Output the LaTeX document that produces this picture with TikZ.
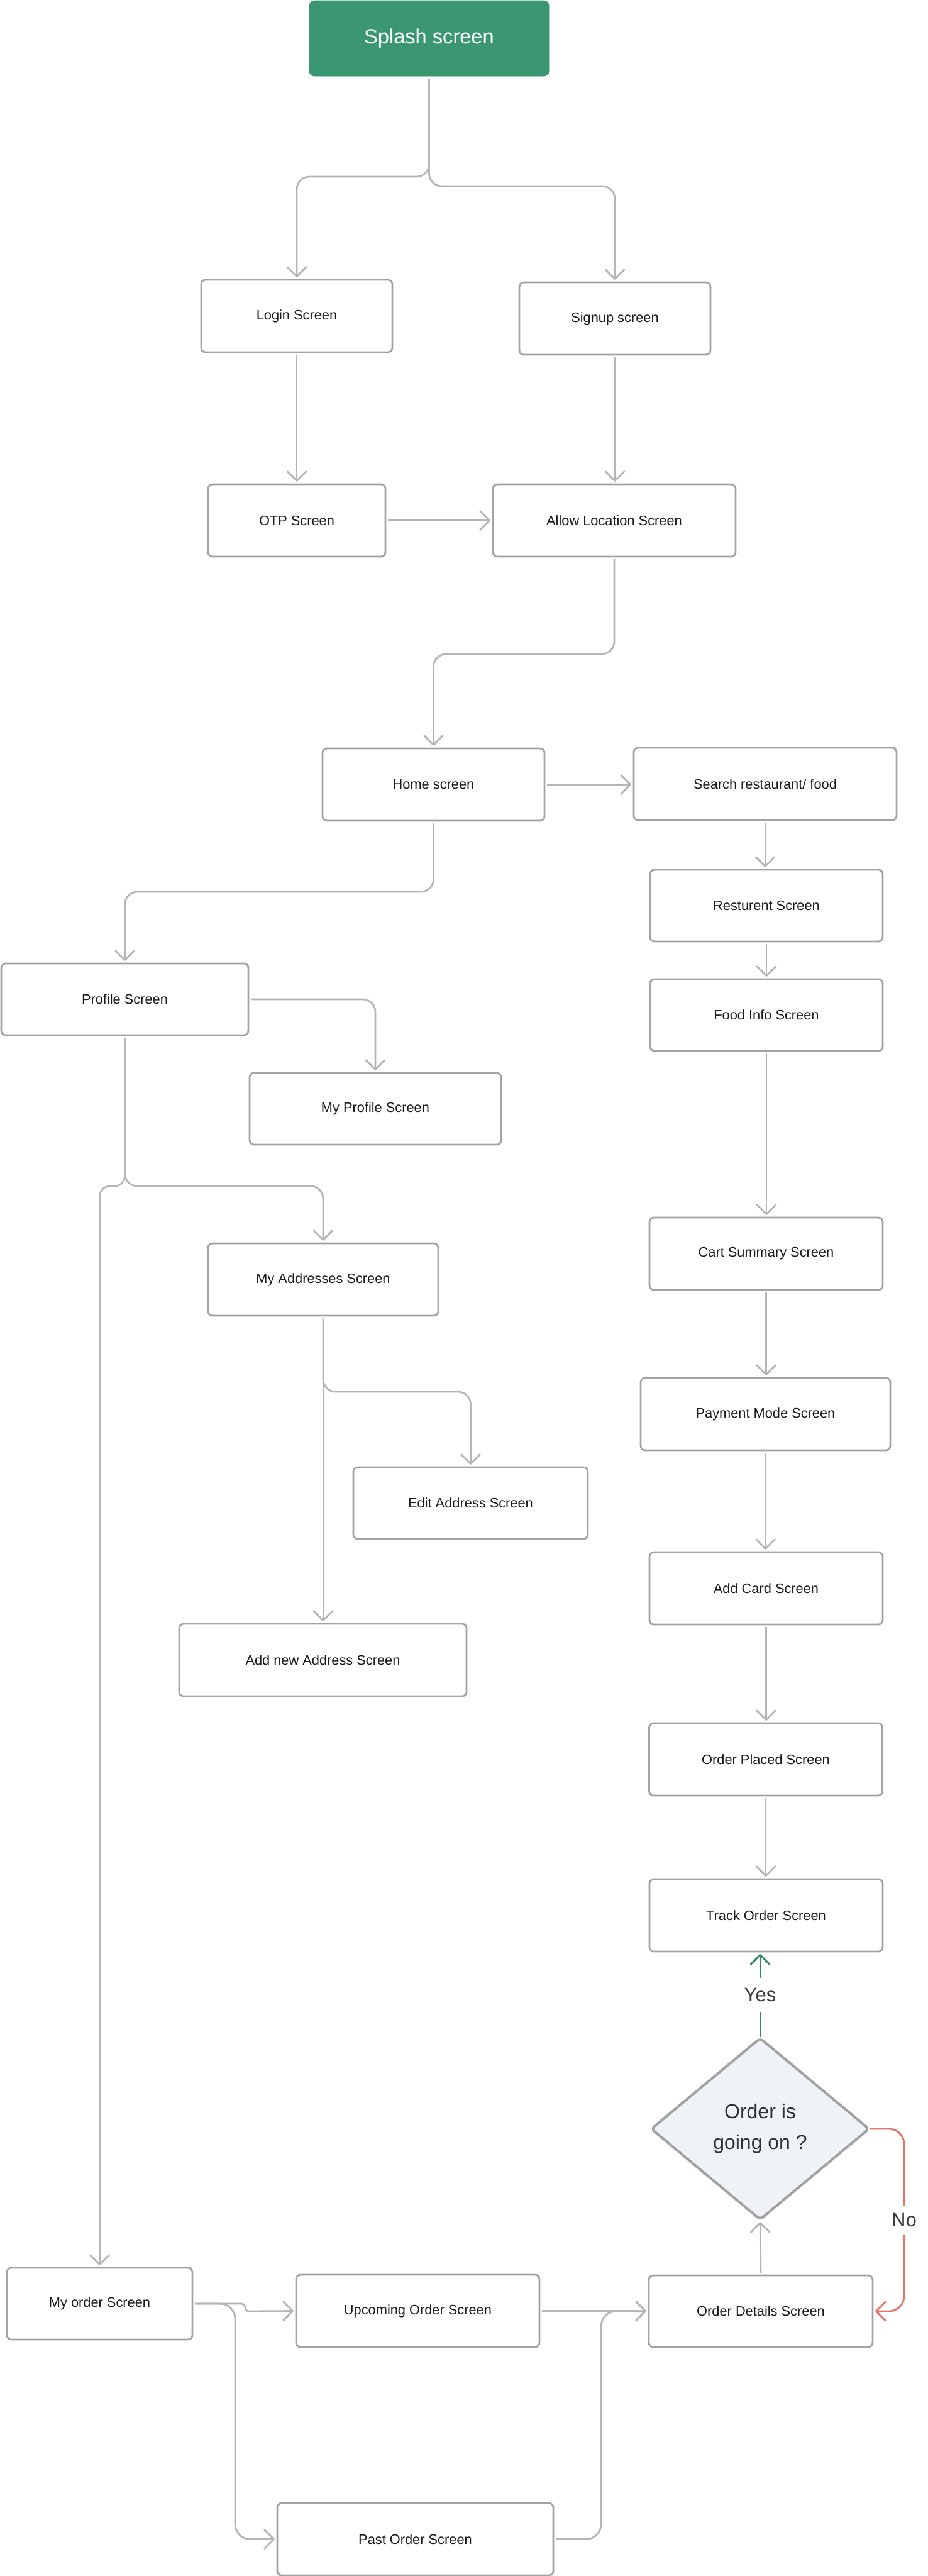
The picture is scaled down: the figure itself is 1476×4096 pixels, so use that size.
\documentclass[tikz,border=0pt]{standalone}
\usepackage{fontspec}
\setmainfont{Liberation Sans}
\usetikzlibrary{arrows.meta,shapes.geometric}
\definecolor{boxgray}{HTML}{A2A2A2}
\definecolor{conngray}{HTML}{B5B5B5}
\definecolor{splashgreen}{HTML}{3A9772}
\definecolor{yesgreen}{HTML}{2E8B66}
\definecolor{nored}{HTML}{E37468}
\definecolor{dfill}{HTML}{EFF3F8}
\definecolor{txt}{HTML}{1A1A1A}
\tikzset{
  box/.style={draw=boxgray, line width=1.4pt, rounded corners=3.5pt, fill=white,
    inner sep=0pt, outer sep=0pt, text=txt, font=\fontsize{10.9}{13}\selectfont},
  splashbox/.style={draw=splashgreen, fill=splashgreen, rounded corners=4pt, inner sep=0pt,
    outer sep=0pt, text=white, font=\fontsize{16.3}{19}\selectfont},
  decision/.style={shape=diamond, draw=boxgray, fill=dfill, line width=2pt, rounded corners=3pt,
    inner sep=0pt, outer sep=0pt, align=center, text=txt!90, font=\fontsize{16}{24.5}\selectfont},
  tip/.style={-{Straight Barb[length=7.5pt,width=15pt,round]}},
  conn/.style={draw=conngray, line width=1.4pt, tip, rounded corners=10pt, shorten >=2pt, shorten <=2pt},
  yesline/.style={draw=yesgreen, line width=1.4pt, tip, shorten >=2pt, shorten <=1pt},
  noline/.style={draw=nored, line width=1.4pt, tip, rounded corners=12pt, shorten >=2pt, shorten <=1pt},
  lbl/.style={fill=white, text=txt!85, font=\fontsize{15.5}{18}\selectfont, inner sep=8pt}
}
\begin{document}
\begin{tikzpicture}[x=0.5pt,y=-0.5pt]
\useasboundingbox (0,0) rectangle (1476,4096);
\fill[white] (0,0) rectangle (1476,4096);

% nodes
\node[splashbox, minimum width=190.5pt, minimum height=60pt] (splash) at (682.5,61) {Splash screen};
\node[box, minimum width=152pt, minimum height=57.5pt] (login) at (472,502.5) {Login Screen};
\node[box, minimum width=152pt, minimum height=57.5pt] (signup) at (978,506.5) {Signup screen};
\node[box, minimum width=141pt, minimum height=57.5pt] (otp) at (472,827.5) {OTP Screen};
\node[box, minimum width=193pt, minimum height=57.5pt] (allow) at (977,827.5) {Allow Location Screen};
\node[box, minimum width=176.5pt, minimum height=57.5pt] (home) at (689.5,1247.5) {Home screen};
\node[box, minimum width=209pt, minimum height=57.5pt] (search) at (1217,1246.5) {Search restaurant/ food};
\node[box, minimum width=185pt, minimum height=57pt] (rest) at (1219,1440) {Resturent Screen};
\node[box, minimum width=185pt, minimum height=57pt] (food) at (1219,1614) {Food Info Screen};
\node[box, minimum width=196.5pt, minimum height=57pt] (profile) at (198.5,1589) {Profile Screen};
\node[box, minimum width=200pt, minimum height=57pt] (myprofile) at (597,1763) {My Profile Screen};
\node[box, minimum width=183pt, minimum height=57.5pt] (myaddr) at (514,2034.5) {My Addresses Screen};
\node[box, minimum width=186.5pt, minimum height=57pt] (edit) at (748.5,2390) {Edit Address Screen};
\node[box, minimum width=228.5pt, minimum height=57.5pt] (addnew) at (513.5,2639.5) {Add new Address Screen};
\node[box, minimum width=185.5pt, minimum height=57.5pt] (cart) at (1218.5,1993.5) {Cart Summary Screen};
\node[box, minimum width=198.5pt, minimum height=57.5pt] (payment) at (1217.5,2248.5) {Payment Mode Screen};
\node[box, minimum width=185.5pt, minimum height=57.5pt] (addcard) at (1218.5,2525.5) {Add Card Screen};
\node[box, minimum width=185.5pt, minimum height=57.5pt] (placed) at (1218,2797.5) {Order Placed Screen};
\node[box, minimum width=185.5pt, minimum height=57.5pt] (track) at (1218.5,3045.5) {Track Order Screen};
\node[decision, minimum width=173pt, minimum height=144pt] (decide) at (1209,3385) {Order is\\going on ?};
\node[box, minimum width=178pt, minimum height=57pt] (details) at (1210,3675) {Order Details Screen};
\node[box, minimum width=147.5pt, minimum height=57pt] (myorder) at (158.5,3663) {My order Screen};
\node[box, minimum width=193.5pt, minimum height=57.5pt] (upcoming) at (664.5,3674.5) {Upcoming Order Screen};
\node[box, minimum width=219.5pt, minimum height=57.5pt] (past) at (660.5,4037.5) {Past Order Screen};

% connectors
\draw[conn] (splash.south) -- (682.5,281) -| (login.north);
\draw[conn] (splash.south) -- (682.5,296) -| (signup.north);
\draw[conn] (login.south) -- (otp.north);
\draw[conn] (signup.south) -- (signup.south |- allow.north);
\draw[conn] (otp.east) -- (allow.west);
\draw[conn] (allow.south) -- (977,1040) -| (home.north);
\draw[conn] (home.east) -- (home.east -| search.west);
\draw[conn] (home.south) -- (689.5,1418) -| (profile.north);
\draw[conn] (search.south) -- (search.south |- rest.north);
\draw[conn] (rest.south) -- (food.north);
\draw[conn] (food.south) -- (food.south |- cart.north);
\draw[conn] (cart.south) -- (cart.south |- payment.north);
\draw[conn] (payment.south) -- (payment.south |- addcard.north);
\draw[conn] (addcard.south) -- (addcard.south |- placed.north);
\draw[conn] (placed.south) -- (placed.south |- track.north);
\draw[conn] (profile.east) -| (myprofile.north);
\draw[conn] (profile.south) -- (198.5,1886) -| (myaddr.north);
\draw[conn, rounded corners=8pt] (profile.south) -- (198.5,1886) -| (myorder.north);
\draw[conn] (myaddr.south) -- (514,2213) -| (edit.north);
\draw[conn] (myaddr.south) -- (myaddr.south |- addnew.north);
\draw[conn, rounded corners=3pt] (myorder.east) -- (390,3663) -- (390,3675) -- (upcoming.west);
\draw[conn, rounded corners=12pt] (myorder.east) -| (374,4037.5) -- (past.west);
\draw[conn] (upcoming.east) -- (upcoming.east -| details.west);
\draw[conn, rounded corners=12pt] (past.east) -| (956,3675) -- (details.west);
\draw[conn] (details.north) -- (decide.south);
\draw[yesline] (decide.north) -- node[lbl]{Yes} (decide.north |- track.south);
\draw[noline] (decide.east) -- (1438,3385) -- node[lbl, inner sep=6pt]{No} (1438,3675) -- (details.east);
\end{tikzpicture}
\end{document}
